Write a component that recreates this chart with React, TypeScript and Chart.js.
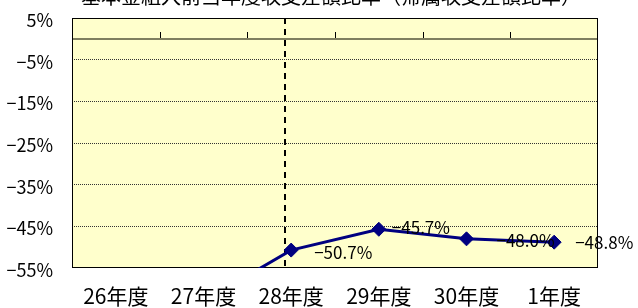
import React, { useEffect, useRef } from "react";
import { Chart, registerables } from "chart.js";

Chart.register(...registerables);

const titleText = "基本金組入前当年度収支差額比率（帰属収支差額比率）";
const categories = ["26年度", "27年度", "28年度", "29年度", "30年度", "1年度"];
const ratioValues: (number | null)[] = [null, -63.0, -50.7, -45.7, -48.0, -48.8];
const yMin = -55;
const yMax = 5;
const yStep = 10;

const FONT = '"Noto Sans CJK JP", "Noto Sans", sans-serif';

const fmt = (v: number, digits: number) =>
  (v < 0 ? "\u2212" : "") + Math.abs(v).toFixed(digits) + "%";

// label offsets (style only)
const labelOffsets = [
  [22, 2],
  [22, 2],
  [23, 2],
  [13, -2],
  [30, 2],
  [21, 0],
];

const decorPlugin = {
  id: "decor",
  beforeDraw(chart: any) {
    const { ctx, chartArea: a } = chart;
    ctx.save();
    ctx.fillStyle = "#FFFFCC";
    ctx.fillRect(a.left, a.top, a.right - a.left, a.bottom - a.top);
    ctx.restore();
  },
  beforeDatasetsDraw(chart: any) {
    const { ctx, chartArea: a, scales } = chart;
    const x = scales.x;
    const y = scales.y;
    ctx.save();
    const y0 = Math.round(y.getPixelForValue(0));
    ctx.strokeStyle = "#7f7f5f";
    ctx.lineWidth = 2;
    ctx.beginPath();
    ctx.moveTo(a.left, y0);
    ctx.lineTo(a.right, y0);
    ctx.stroke();
    ctx.strokeStyle = "#000";
    ctx.lineWidth = 1;
    for (let i = 0; i < categories.length - 1; i++) {
      const px = Math.round(x.getPixelForValue(i + 0.5)) + 0.5;
      ctx.beginPath();
      ctx.moveTo(px, y0 - 7);
      ctx.lineTo(px, y0 - 1);
      ctx.stroke();
    }
    const dx = Math.round(x.getPixelForValue(2) - 6);
    ctx.strokeStyle = "#000";
    ctx.lineWidth = 2;
    ctx.setLineDash([6, 5]);
    ctx.beginPath();
    ctx.moveTo(dx, a.top);
    ctx.lineTo(dx, a.bottom);
    ctx.stroke();
    ctx.setLineDash([]);
    ctx.strokeStyle = "#000";
    ctx.lineWidth = 1;
    ctx.strokeRect(a.left + 0.5, a.top + 0.5, a.right - a.left - 1, a.bottom - a.top - 1);
    ctx.restore();
  },
  afterDatasetsDraw(chart: any) {
    const { ctx } = chart;
    const meta = chart.getDatasetMeta(0);
    ctx.save();
    ctx.font = `17px ${FONT}`;
    ctx.fillStyle = "#000";
    ctx.textAlign = "left";
    ctx.textBaseline = "middle";
    ratioValues.forEach((v, i) => {
      if (v === null || v < yMin || v > yMax) return;
      const p = meta.data[i];
      const [ox, oy] = labelOffsets[i];
      ctx.fillText(fmt(v, 1), p.x + ox, p.y + oy);
    });
    ctx.font = `20px ${FONT}`;
    ctx.textAlign = "center";
    ctx.textBaseline = "alphabetic";
    ctx.fillText(titleText, 331, 4);
    ctx.restore();
  },
};

export default function App() {
  const ref = useRef<HTMLCanvasElement | null>(null);
  useEffect(() => {
    if (!ref.current) return;
    const chart = new Chart(ref.current, {
      type: "line",
      data: {
        labels: categories,
        datasets: [
          {
            data: ratioValues,
            borderColor: "#000080",
            backgroundColor: "#000080",
            borderWidth: 3,
            pointStyle: "rectRot",
            pointRadius: 7,
            pointHoverRadius: 7,
            pointBackgroundColor: "#000080",
            pointBorderColor: "#000080",
            pointBorderWidth: 1,
            tension: 0,
          },
        ],
      },
      options: {
        animation: false,
        responsive: false,
        layout: { padding: { top: 18, right: 40, left: 0, bottom: 0 } },
        plugins: {
          legend: { display: false },
          title: { display: false },
          tooltip: { enabled: false },
        },
        scales: {
          x: {
            type: "category",
            position: "bottom",
            offset: true,
            grid: { display: false, drawTicks: false, offset: true },
            border: { display: false },
            ticks: {
              color: "#000",
              font: { family: FONT, size: 21 },
              padding: 15,
              autoSkip: false,
              maxRotation: 0,
            },
            afterFit(scale: any) {
              scale.height = 40;
            },
          },
          y: {
            min: yMin,
            max: yMax,
            grid: {
              drawTicks: true,
              tickLength: 19,
              tickColor: "rgba(0,0,0,0)",
              color: (c: any) =>
                c.tick && c.tick.value === yMin ? "rgba(0,0,0,0)" : "#333",
              lineWidth: 1,
            },
            border: { display: false, dash: [1, 1] },
            ticks: {
              stepSize: yStep,
              color: "#000",
              font: { family: FONT, size: 18 },
              padding: 0,
              labelOffset: 2,
              callback: (v: any) => fmt(Number(v), 0),
            },
            afterFit(scale: any) {
              scale.width = 72;
            },
          },
        },
      },
      plugins: [decorPlugin],
    });
    return () => chart.destroy();
  }, []);
  return (
    <div style={{ position: "fixed", left: 0, top: 0, width: 638, height: 308, background: "#fff" }}>
      <canvas ref={ref} width={638} height={308} style={{ display: "block" }} />
    </div>
  );
}
